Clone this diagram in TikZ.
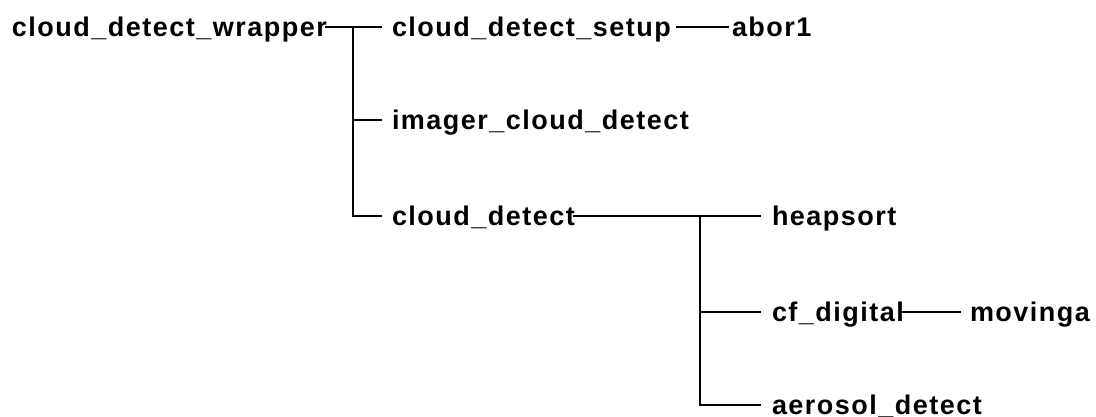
\documentclass[tikz,border=0pt]{standalone}
\usepackage{fontspec}
\newfontfamily\lbl{Liberation Sans}[LetterSpace=5.5]
\begin{document}
\begin{tikzpicture}[x=1pt,y=-1pt,
  lab/.style={anchor=west,inner sep=0pt,outer sep=0pt,text height=19pt,text depth=0pt,
    font=\lbl\bfseries\fontsize{27}{32}\selectfont},
  conn/.style={line width=2.8pt,line cap=rect}]
\useasboundingbox (0,0) rectangle (1096,416);
\node[lab] (w) at (12,27) {cloud\_detect\_wrapper};
\node[lab] (s) at (392,27) {cloud\_detect\_setup};
\node[lab] (a) at (732,27) {abor1};
\node[lab] (i) at (392,120) {imager\_cloud\_detect};
\node[lab] (c) at (392,216) {cloud\_detect};
\node[lab] (h) at (772,216) {heapsort};
\node[lab] (f) at (772,312) {cf\_digital};
\node[lab] (m) at (970,312) {movinga};
\node[lab] (e) at (772,405) {aerosol\_detect};
\coordinate (j1) at (353,27);
\coordinate (j2) at (700,216);
\draw[conn] (w.east) -- (j1) -- ([xshift=-11pt]s.west);
\draw[conn] (j1) |- ([xshift=-11pt]i.west);
\draw[conn] (j1) |- ([xshift=-11pt]c.west);
\draw[conn] ([xshift=7pt]s.east) -- ([xshift=-4pt]a.west);
\draw[conn] (c.east) -- ([xshift=-12pt]h.west);
\draw[conn] (j2) |- ([xshift=-12pt]f.west);
\draw[conn] (j2) |- ([xshift=-12pt]e.west);
\draw[conn] (f.east) -- ([xshift=-10pt]m.west);
\end{tikzpicture}
\end{document}
